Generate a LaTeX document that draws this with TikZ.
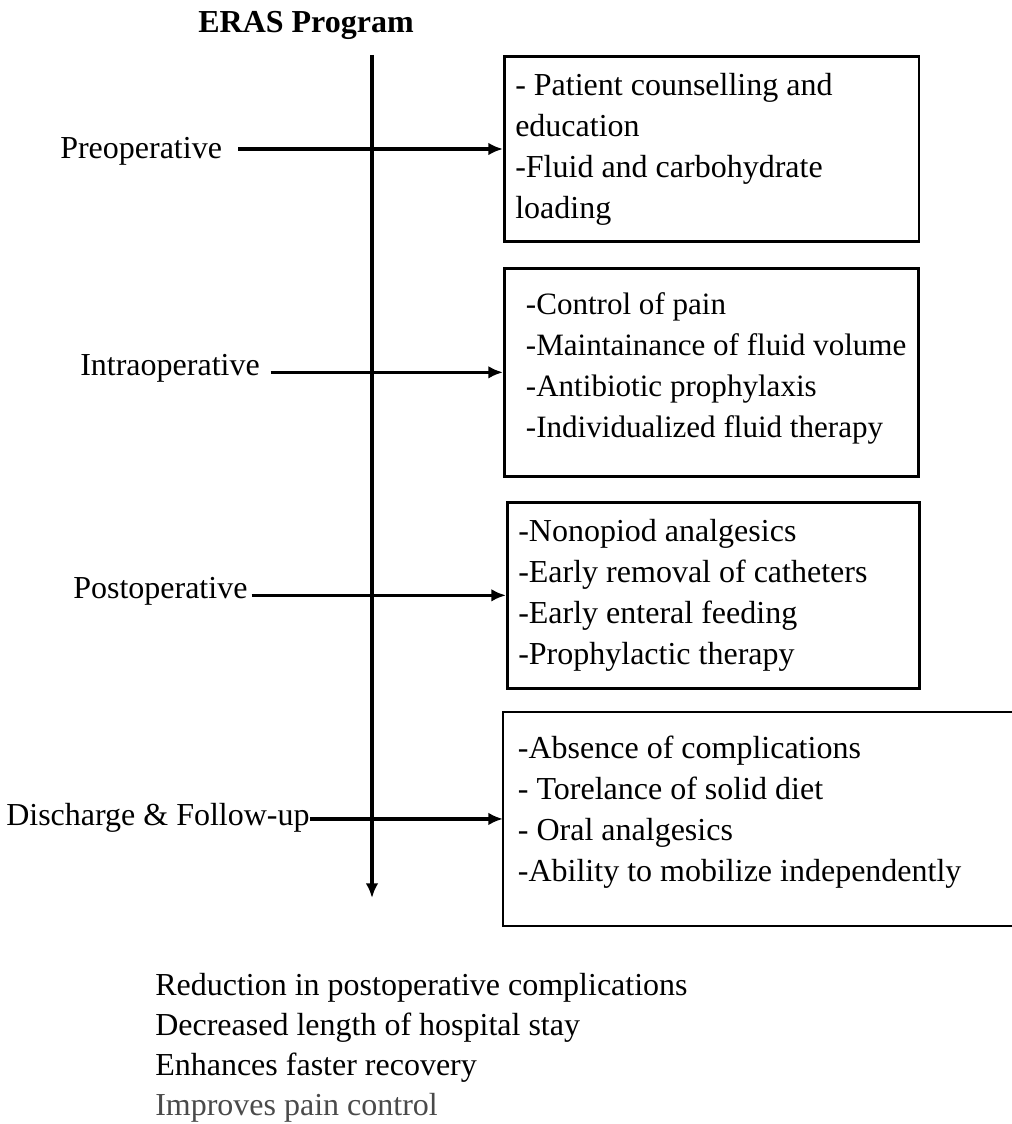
\documentclass[tikz,border=0pt]{standalone}
\usepackage{fontspec}
\setmainfont{Liberation Serif}
\usepackage{tikz}
\usetikzlibrary{arrows.meta, positioning}
\definecolor{inkgray}{HTML}{4A4A4A}

\begin{document}
\begin{tikzpicture}[x=0.75pt, y=-0.75pt, >={Latex[length=11pt, width=9.5pt]},
  font=\fontsize{24}{30.75}\selectfont,
  box/.style={draw, line width=2pt, anchor=north west, inner sep=0pt},
  list/.style={align=left, inner sep=0pt},
  phase/.style={anchor=base west, inner sep=0pt},
  flow/.style={->, line width=2.6pt}]
  \useasboundingbox (0,0) rectangle (1011,1124);
  % title and time axis
  \node[font=\fontsize{24}{30}\selectfont\bfseries, anchor=base] (title) at (306,33) {ERAS Program};
  \coordinate (axtop) at (372,55);
  \coordinate (axend) at (372,898);
  \draw[flow] (axtop) -- (axend);
  % the four phases
  \node[phase] (pre) at (60,158) {Preoperative};
  \node[phase] (intra) at (80,375) {Intraoperative};
  \node[phase] (post) at (73,598) {Postoperative};
  \node[phase] (dis) at (6,825) {Discharge \& Follow-up};
  % what each phase holds
  \node[box, minimum width=311pt, minimum height=139pt] (box1) at (503,55) {};
  \node[list, right=9pt of box1.west] (list1) {- Patient counselling and\\education\\-Fluid and carbohydrate\\loading};
  \node[box, minimum width=310.5pt, minimum height=156pt] (box2) at (503,267) {};
  \node[list, right=17pt of box2.west, yshift=3pt, font=\fontsize{23.3}{30.75}\selectfont] (list2) {-Control of pain\\-Maintainance of fluid volume\\-Antibiotic prophylaxis\\-Individualized fluid therapy};
  \node[box, minimum width=309pt, minimum height=139.5pt] (box3) at (506,501) {};
  \node[list, right=9pt of box3.west] (list3) {-Nonopiod analgesics\\-Early removal of catheters\\-Early enteral feeding\\-Prophylactic therapy};
  \node[anchor=north west, inner sep=0pt, minimum width=381pt, minimum height=160pt] (box4) at (503,712) {};
  \draw[line width=2pt] (box4.north east) -- (box4.north west) -- (box4.south west) -- (box4.south east);
  \node[list, right=11pt of box4.west, yshift=5pt] (list4) {-Absence of complications\\- Torelance of solid diet\\- Oral analgesics\\-Ability to mobilize independently};
  % arrows into the boxes
  \draw[flow, shorten <=12pt] (pre.east |- box1.west) -- (box1.west);
  \draw[flow, shorten <=8pt] (intra.east |- box2.west) -- (box2.west);
  \draw[flow, shorten <=3pt] (post.east |- box3.west) -- (box3.west);
  \draw[flow] (dis.east |- box4.west) -- (box4.west);
  % outcomes
  \node[anchor=north west, align=left, inner sep=0pt, font=\fontsize{24}{30}\selectfont] (gains) at (155,973)
    {Reduction in postoperative complications\\Decreased length of hospital stay\\Enhances faster recovery\\{\color{inkgray}Improves pain control}};
\end{tikzpicture}
\end{document}
